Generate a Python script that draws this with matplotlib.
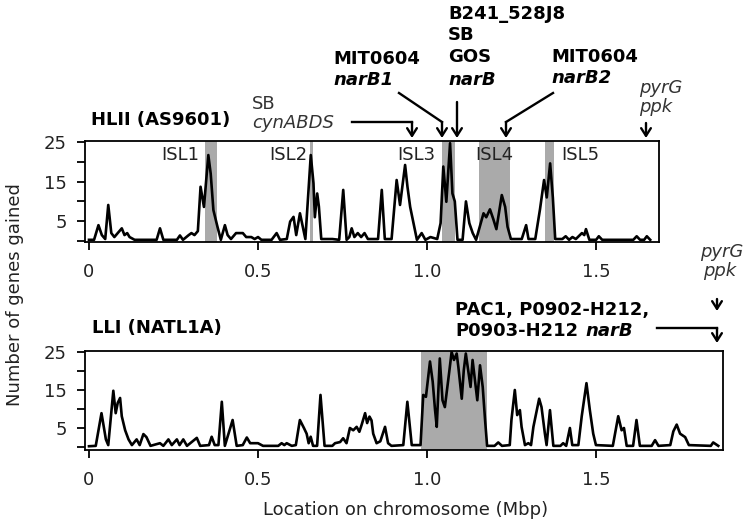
import matplotlib
matplotlib.use("Agg")
import matplotlib.pyplot as plt
from matplotlib.lines import Line2D
from matplotlib.patches import FancyArrowPatch
from matplotlib.text import Annotation

# ---------------- data ----------------
hlii_pos = [0.000, 0.015, 0.028, 0.038, 0.048, 0.057, 0.066, 0.075, 0.085, 0.097,
            0.105, 0.113, 0.120, 0.135, 0.200, 0.210, 0.220, 0.260, 0.269, 0.278,
            0.295, 0.303, 0.312, 0.322, 0.330, 0.340, 0.353, 0.360, 0.368, 0.380,
            0.390, 0.402, 0.410, 0.420, 0.435, 0.455, 0.465, 0.480, 0.490, 0.500,
            0.510, 0.540, 0.555, 0.565, 0.585, 0.595, 0.605, 0.613, 0.624, 0.640,
            0.656, 0.664, 0.668, 0.675, 0.680, 0.687, 0.720, 0.740, 0.752, 0.762,
            0.770, 0.777, 0.785, 0.795, 0.805, 0.815, 0.825, 0.855, 0.866, 0.875,
            0.895, 0.910, 0.920, 0.935, 0.942, 0.950, 0.960, 0.970, 0.984, 0.995,
            1.010, 1.030, 1.040, 1.048, 1.057, 1.068, 1.075, 1.082, 1.090, 1.105,
            1.115, 1.125, 1.135, 1.145, 1.157, 1.167, 1.175, 1.186, 1.196, 1.205,
            1.221, 1.231, 1.238, 1.248, 1.280, 1.293, 1.300, 1.320, 1.334, 1.346,
            1.354, 1.364, 1.372, 1.379, 1.400, 1.410, 1.420, 1.430, 1.440, 1.458,
            1.465, 1.470, 1.480, 1.500, 1.508, 1.518, 1.610, 1.620, 1.630, 1.642,
            1.650, 1.660]
hlii_genes = [0.3, 0.3, 4.0, 1.5, 0.5, 9.1, 2.0, 1.0, 2.0, 3.2,
              1.5, 2.0, 1.0, 0.3, 0.3, 3.2, 0.3, 0.3, 1.4, 0.3,
              1.5, 2.0, 1.5, 2.5, 13.7, 8.6, 21.7, 17.0, 7.8, 3.6,
              0.3, 4.0, 1.5, 0.5, 2.0, 2.0, 1.0, 1.0, 0.5, 1.0,
              0.3, 0.3, 2.0, 0.3, 0.5, 4.9, 6.1, 1.5, 7.0, 0.5,
              21.7, 14.6, 6.0, 12.0, 8.7, 0.5, 0.5, 0.3, 12.9, 0.3,
              1.0, 3.2, 1.0, 2.0, 1.0, 2.0, 0.5, 0.5, 12.9, 0.5,
              0.5, 15.4, 9.1, 19.2, 13.7, 8.6, 4.5, 0.3, 2.0, 0.3,
              1.0, 0.5, 4.5, 18.8, 9.9, 24.7, 12.0, 10.0, 0.3, 0.3,
              10.0, 4.5, 2.0, 0.3, 4.0, 7.0, 6.0, 8.0, 5.5, 3.0,
              11.6, 8.6, 3.6, 0.5, 0.5, 4.0, 0.5, 0.5, 8.0, 15.4,
              11.0, 19.6, 11.0, 0.5, 0.5, 1.2, 0.3, 1.0, 0.5, 2.0,
              1.5, 3.0, 0.3, 0.3, 1.2, 0.3, 0.3, 1.2, 0.3, 0.3,
              1.2, 0.3]

lli_pos = [0.000, 0.020, 0.037, 0.050, 0.057, 0.072, 0.079, 0.085, 0.092, 0.097,
           0.107, 0.117, 0.127, 0.141, 0.150, 0.161, 0.170, 0.182, 0.210, 0.220,
           0.235, 0.245, 0.260, 0.268, 0.279, 0.290, 0.319, 0.329, 0.355, 0.363,
           0.372, 0.383, 0.393, 0.402, 0.425, 0.437, 0.455, 0.467, 0.477, 0.500,
           0.515, 0.560, 0.570, 0.578, 0.585, 0.600, 0.612, 0.624, 0.636, 0.644,
           0.650, 0.656, 0.663, 0.675, 0.685, 0.697, 0.720, 0.728, 0.743, 0.752,
           0.762, 0.772, 0.782, 0.792, 0.800, 0.807, 0.817, 0.823, 0.830, 0.836,
           0.841, 0.851, 0.862, 0.876, 0.885, 0.895, 0.930, 0.942, 0.955, 0.981,
           0.989, 0.997, 1.009, 1.017, 1.024, 1.029, 1.038, 1.046, 1.053, 1.058,
           1.066, 1.073, 1.080, 1.088, 1.093, 1.103, 1.109, 1.115, 1.122, 1.129,
           1.135, 1.142, 1.149, 1.157, 1.165, 1.172, 1.178, 1.200, 1.211, 1.222,
           1.245, 1.250, 1.260, 1.267, 1.275, 1.280, 1.290, 1.300, 1.308, 1.315,
           1.325, 1.332, 1.339, 1.349, 1.354, 1.364, 1.374, 1.395, 1.403, 1.412,
           1.423, 1.430, 1.448, 1.458, 1.472, 1.482, 1.492, 1.500, 1.550, 1.566,
           1.576, 1.583, 1.591, 1.610, 1.620, 1.630, 1.665, 1.675, 1.685, 1.720,
           1.729, 1.739, 1.749, 1.764, 1.775, 1.840, 1.847, 1.862]
lli_genes = [0.2, 0.3, 8.9, 2.0, 0.5, 14.8, 8.9, 11.6, 12.9, 8.1,
             4.4, 2.0, 0.5, 2.0, 0.5, 3.4, 2.6, 0.3, 1.0, 0.3,
             2.0, 0.5, 2.0, 0.5, 2.0, 0.3, 2.4, 0.3, 0.5, 2.7,
             0.5, 0.5, 11.9, 0.3, 7.1, 0.3, 0.5, 2.5, 1.0, 1.0,
             0.3, 0.3, 1.0, 0.5, 1.0, 0.3, 0.5, 7.1, 5.0, 3.5,
             1.0, 2.7, 0.3, 0.3, 13.7, 0.3, 0.3, 1.0, 1.3, 2.3,
             1.0, 5.0, 4.4, 5.3, 4.0, 5.9, 8.9, 6.3, 8.0, 7.0,
             3.5, 1.0, 1.5, 5.3, 1.0, 0.3, 0.5, 11.9, 0.5, 0.5,
             13.7, 13.2, 22.5, 17.2, 9.7, 5.3, 23.3, 12.3, 10.5, 14.0,
             19.8, 25.0, 22.9, 24.6, 21.0, 12.7, 20.2, 24.6, 20.2, 15.8,
             22.9, 17.6, 12.3, 21.5, 15.8, 7.1, 0.3, 0.3, 1.2, 0.3,
             0.5, 7.1, 15.0, 8.4, 9.7, 5.3, 0.5, 1.0, 0.5, 5.3,
             9.7, 12.7, 10.5, 3.5, 0.5, 9.7, 0.3, 0.3, 1.0, 0.3,
             5.0, 0.5, 0.5, 8.1, 16.8, 9.7, 3.5, 0.5, 0.3, 8.1,
             4.4, 5.0, 0.3, 0.3, 7.1, 0.3, 0.3, 1.8, 0.3, 0.5,
             4.1, 5.9, 3.5, 2.6, 0.5, 0.3, 1.2, 0.3]

isl_names = ["ISL1", "ISL2", "ISL3", "ISL4", "ISL5"]
isl_start = [0.343, 0.654, 1.044, 1.154, 1.349]
isl_end = [0.379, 0.663, 1.083, 1.246, 1.376]
lli_island = [0.982, 1.178]

xtick_vals = [0, 0.5, 1.0, 1.5]
xtick_labels = ["0", "0.5", "1.0", "1.5"]
ytick_vals = [0, 5, 10, 15, 20, 25]
ytick_labels = ["", "5", "", "15", "", "25"]

# ---------------- figure ----------------
W, H = 748, 527
fig = plt.figure(figsize=(W / 100, H / 100), dpi=100)
plt.rcParams['font.family'] = ['DejaVu Sans']
FS = 13
LW = 1.9
GREY = '#aaaaaa'
TXT = '#222222'


def fx(px):
    return px / W


def fy(py):
    return 1 - py / H


def style_axes(ax):
    for s in ax.spines.values():
        s.set_linewidth(1.3)
    ax.set_xticks(xtick_vals)
    ax.set_xticklabels(xtick_labels, fontsize=FS, color=TXT)
    ax.set_yticks(ytick_vals)
    ax.set_yticklabels(ytick_labels, fontsize=FS, color=TXT)
    ax.tick_params(axis='x', direction='out', length=6, width=1.3, pad=9)
    ax.tick_params(axis='y', direction='out', length=6, width=1.3, pad=7)


# top panel
ax1 = fig.add_axes([fx(85), fy(242), fx(659) - fx(85), (242 - 141) / H])
for s, e in zip(isl_start, isl_end):
    ax1.axvspan(s, e, color=GREY, lw=0, zorder=1)
ax1.plot(hlii_pos, hlii_genes, color='black', lw=LW, zorder=3,
         solid_joinstyle='round')
ax1.set_xlim(-0.0118, 1.686)
ax1.set_ylim(-0.25, 25.25)
style_axes(ax1)

isl_label_x = [0.325, 0.646, 1.024, 1.198, 1.396]
isl_label_ha = ['right', 'right', 'right', 'center', 'left']
for name, lx, ha in zip(isl_names, isl_label_x, isl_label_ha):
    ax1.text(lx, 21.6, name, ha=ha, va='center', fontsize=FS, color=TXT, zorder=4)

# bottom panel
ax2 = fig.add_axes([fx(85), fy(450), fx(723) - fx(85), (450 - 351) / H])
ax2.axvspan(lli_island[0], lli_island[1], color=GREY, lw=0, zorder=1)
ax2.plot(lli_pos, lli_genes, color='black', lw=LW, zorder=3,
         solid_joinstyle='round')
ax2.set_xlim(-0.0118, 1.876)
ax2.set_ylim(-0.79, 25.26)
style_axes(ax2)

# axis labels
fig.text(fx(15), fy(295), "Number of genes gained", rotation=90, ha='center', va='center',
         fontsize=FS, color=TXT)
fig.text(fx(406), fy(510), "Location on chromosome (Mbp)", ha='center', va='center',
         fontsize=FS, color=TXT)

# panel titles
fig.text(fx(91), fy(120), "HLII (AS9601)", fontweight='bold', fontsize=FS, va='center', ha='left')
fig.text(fx(92), fy(328), "LLI (NATL1A)", fontweight='bold', fontsize=FS, va='center', ha='left')


def txt(x, y, s, **kw):
    kw.setdefault('fontsize', FS)
    return fig.text(fx(x), fy(y), s, ha='left', va='center', **kw)


# top annotations
txt(252, 104, "SB", color='#333333')
txt(252, 123, "cynABDS", style='italic', color='#333333')
txt(333, 59, "MIT0604", fontweight='bold')
txt(333, 80, "narB1", fontweight='bold', style='italic')
txt(448, 14, "B241_528J8", fontweight='bold')
txt(448, 35, "SB", fontweight='bold')
txt(448, 57, "GOS", fontweight='bold')
txt(448, 80, "narB", fontweight='bold', style='italic')
txt(551, 57, "MIT0604", fontweight='bold')
txt(551, 78, "narB2", fontweight='bold', style='italic')
txt(639, 88, "pyrG", style='italic', color='#333333')
txt(639, 107, "ppk", style='italic', color='#333333')

# bottom annotations
txt(455, 310, "PAC1, P0902-H212,", fontweight='bold')
t1 = txt(455, 331, "P0903-H212", fontweight='bold')
fig.add_artist(Annotation("narB", xy=(1, 0), xycoords=t1, xytext=(5, 0),
                          textcoords='offset points', ha='left', va='bottom',
                          fontweight='bold', style='italic', fontsize=FS))
txt(700, 252, "pyrG", style='italic', color='#333333')
txt(703, 271, "ppk", style='italic', color='#333333')


def arrow(points):
    pts = [(fx(x), fy(y)) for x, y in points]
    if len(pts) > 2:
        xs = [p[0] for p in pts[:-1]]
        ys = [p[1] for p in pts[:-1]]
        fig.add_artist(Line2D(xs, ys, transform=fig.transFigure, color='black', lw=1.7,
                              solid_joinstyle='miter'))
    a = FancyArrowPatch(pts[-2], pts[-1], transform=fig.transFigure,
                        arrowstyle='->,head_length=0.55,head_width=0.35',
                        mutation_scale=10, lw=1.7, color='black',
                        shrinkA=0, shrinkB=0)
    fig.add_artist(a)


arrow([(352, 122), (412, 122), (412, 138)])
arrow([(399, 93), (442, 122), (442, 138)])
arrow([(457, 102), (457, 138)])
arrow([(553, 93), (506, 122), (506, 138)])
arrow([(646, 123), (646, 138)])
arrow([(717, 299), (717, 311)])
arrow([(657, 328), (717, 328), (717, 343)])

fig.savefig("out.png", dpi=100)
